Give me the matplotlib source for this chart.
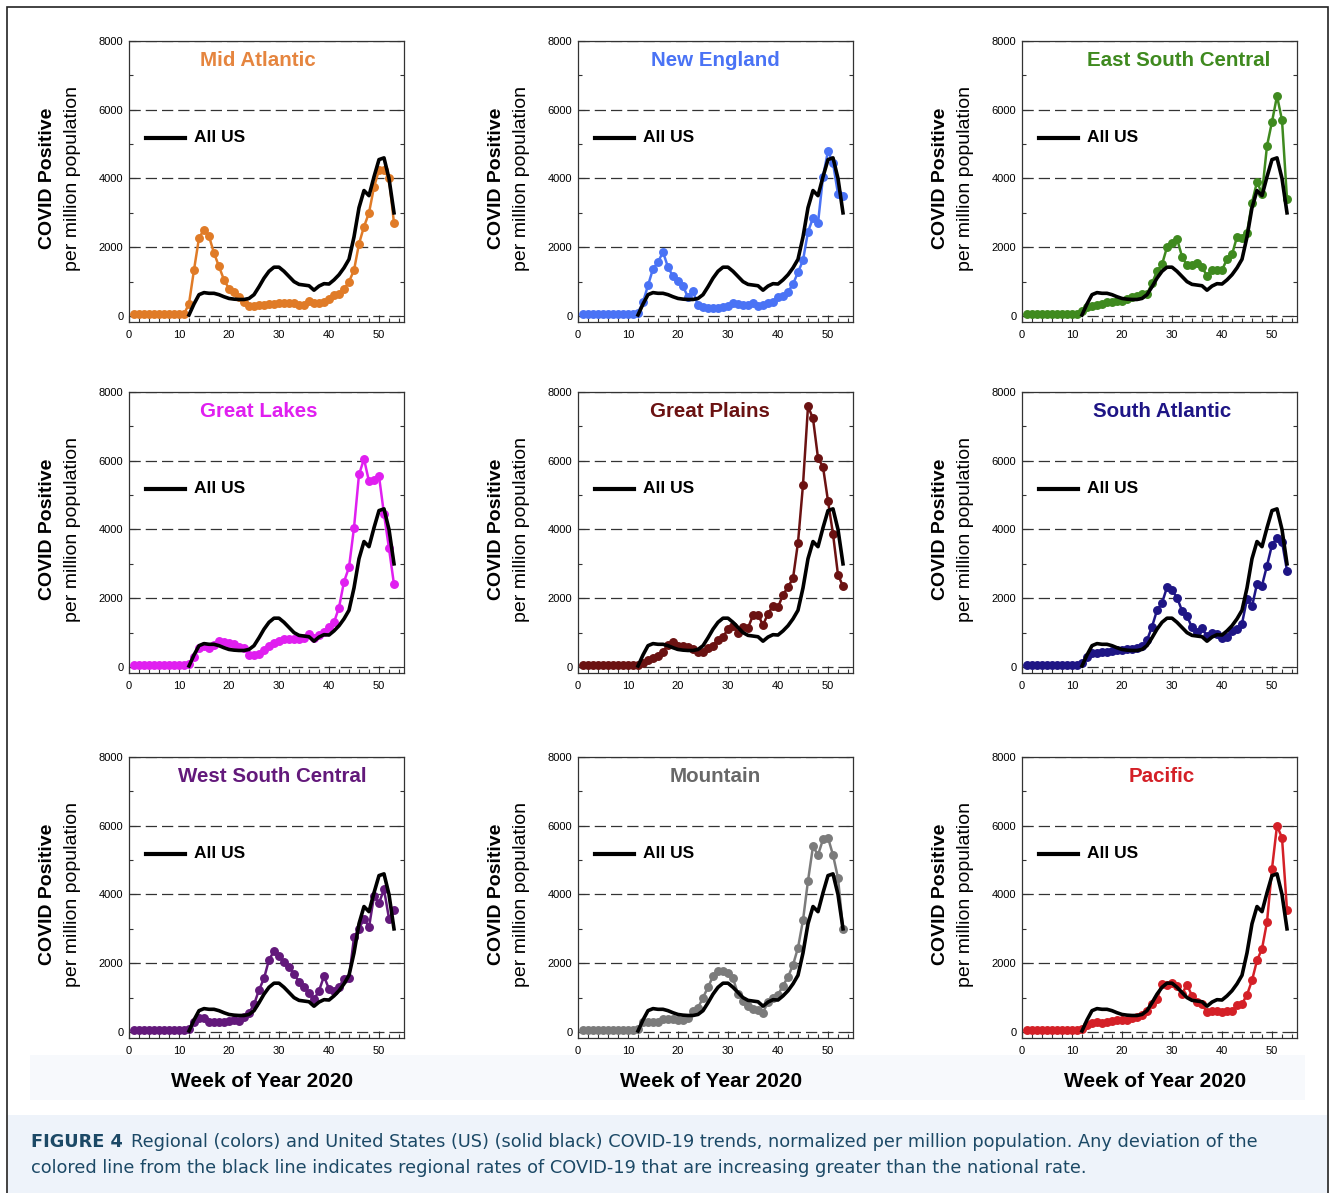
import numpy as np
import matplotlib
matplotlib.use('Agg')
import matplotlib.pyplot as plt
from matplotlib.patches import Rectangle
from matplotlib.ticker import MultipleLocator

plt.rcParams['font.family'] = ['Liberation Sans', 'DejaVu Sans']

# week numbers
weeks = np.arange(1, 54)
us_weeks = np.arange(12, 54)

# All US (black line), per million population
us_cases = [30, 350, 620, 680, 660, 660, 620, 560, 510, 490, 480, 480, 510, 620,
            850, 1100, 1300, 1420, 1420, 1300, 1150, 1000, 920, 900, 880, 750,
            870, 940, 930, 1050, 1200, 1400, 1650, 2300, 3150, 3650, 3500, 4050,
            4550, 4600, 4000, 3000]

# regional series, weeks 1..53
mid_atlantic = [50, 50, 50, 50, 50, 50, 50, 50, 50, 50, 50,
                360, 1340, 2270, 2510, 2320, 1830, 1440, 1050, 790, 700, 550, 400, 290,
                290, 320, 330, 340, 360, 380, 390, 370, 370, 330, 320, 430, 380, 380,
                400, 480, 600, 640, 780, 1000, 1330, 2100, 2600, 3000, 3750, 4250,
                4250, 4000, 2700]
new_england = [50, 50, 50, 50, 50, 50, 50, 50, 50, 50, 50,
               100, 400, 890, 1370, 1570, 1860, 1420, 1150, 1010, 860, 550, 720, 310,
               250, 230, 220, 230, 260, 300, 380, 340, 330, 310, 370, 290, 330, 380,
               420, 560, 580, 700, 930, 1270, 1620, 2450, 2850, 2700, 4050, 4800,
               4450, 3550, 3500]
east_south_central = [50, 50, 50, 50, 50, 50, 50, 50, 50, 50, 50,
                      150, 250, 280, 320, 340, 400, 420, 430, 440, 500, 540, 570, 650,
                      640, 950, 1300, 1500, 2000, 2120, 2250, 1730, 1470, 1480, 1550,
                      1420, 1170, 1330, 1340, 1340, 1650, 1790, 2300, 2280, 2420, 3300,
                      3900, 3560, 4950, 5650, 6400, 5700, 3400]
great_lakes = [50, 50, 50, 50, 50, 50, 50, 50, 50, 50, 50,
               100, 290, 560, 620, 560, 640, 760, 740, 700, 680, 570, 560, 350,
               340, 390, 480, 600, 700, 760, 800, 820, 820, 800, 840, 960, 830, 940,
               1020, 1170, 1300, 1730, 2480, 2900, 4050, 5600, 6050, 5400, 5450, 5550,
               4450, 3450, 2400]
great_plains = [50, 50, 50, 50, 50, 50, 50, 50, 50, 50, 50,
                60, 120, 200, 260, 320, 450, 650, 740, 620, 620, 570, 520, 430,
                450, 560, 620, 790, 880, 1100, 1180, 1000, 1150, 1140, 1500, 1520,
                1220, 1550, 1780, 1740, 2100, 2330, 2580, 3620, 5300, 7580, 7230,
                6080, 5820, 4830, 3870, 2680, 2350]
south_atlantic = [50, 50, 50, 50, 50, 50, 50, 50, 50, 50, 50,
                  120, 300, 400, 420, 430, 440, 460, 480, 500, 520, 530, 560, 600,
                  780, 1170, 1650, 1860, 2320, 2230, 2020, 1640, 1480, 1150, 1030,
                  1120, 900, 980, 950, 850, 860, 1060, 1100, 1260, 1980, 1760, 2420,
                  2370, 2950, 3550, 3750, 3650, 2800]
west_south_central = [50, 50, 50, 50, 50, 50, 50, 50, 50, 50, 50,
                      100, 300, 400, 420, 300, 280, 300, 300, 320, 350, 330, 450, 550,
                      800, 1220, 1560, 2100, 2350, 2220, 2030, 1900, 1700, 1450, 1310,
                      1130, 950, 1200, 1620, 1250, 1200, 1300, 1550, 1560, 2750, 3000,
                      3300, 3050, 3950, 3750, 4150, 3300, 3550]
mountain = [50, 50, 50, 50, 50, 50, 50, 50, 50, 50, 50,
            100, 280, 300, 280, 300, 380, 380, 380, 350, 340, 400, 600, 700,
            1000, 1300, 1620, 1760, 1780, 1720, 1560, 1100, 900, 750, 660, 650, 560,
            880, 980, 1080, 1350, 1600, 1950, 2450, 3250, 4400, 5400, 5150, 5600,
            5650, 5150, 4480, 3000]
pacific = [50, 50, 50, 50, 50, 50, 50, 50, 50, 50, 50,
           100, 200, 270, 280, 250, 300, 320, 340, 350, 340, 400, 450, 500,
           600, 800, 950, 1400, 1370, 1430, 1350, 1100, 1380, 1050, 870, 800, 580,
           600, 620, 580, 620, 600, 780, 820, 1080, 1500, 2080, 2420, 3200, 4750,
           6000, 5650, 3550]

region_names = ['Mid Atlantic', 'New England', 'East South Central',
                'Great Lakes', 'Great Plains', 'South Atlantic',
                'West South Central', 'Mountain', 'Pacific']
region_values = [mid_atlantic, new_england, east_south_central,
                 great_lakes, great_plains, south_atlantic,
                 west_south_central, mountain, pacific]
region_colors = ['#E07B27', '#4A73F5', '#3F8A1F',
                 '#E01FF0', '#6B1212', '#1E1585',
                 '#63197B', '#7B7B7B', '#D42027']
title_colors = ['#E5853F', '#4A73F5', '#3F8A1F',
                '#E01FF0', '#6B1212', '#1E1585',
                '#63197B', '#686868', '#D42027']
title_x = [0.47, 0.5, 0.57, 0.47, 0.48, 0.51, 0.52, 0.5, 0.51]

W, H = 1333, 1193
fig = plt.figure(figsize=(W / 100, H / 100), dpi=100)

# outer frame and caption box
fig.patches.append(Rectangle((8 / W, 0), 1319 / W, 78 / H, transform=fig.transFigure,
                             facecolor='#EEF3FA', edgecolor='none', zorder=-5))
fig.patches.append(Rectangle((30 / W, 1 - 1100 / H), 1275 / W, 45 / H,
                             transform=fig.transFigure, facecolor='#F7F9FC',
                             edgecolor='none', zorder=-5))
fig.patches.append(Rectangle((7 / W, -0.05), 1321 / W, 1.05 - 7 / H,
                             transform=fig.transFigure, facecolor='none',
                             edgecolor='#222222', lw=1.2, zorder=-4))

col_left = [129, 578, 1022]
row_top = [41, 392, 757]
ax_w, ax_h = 275, 281

for i, name in enumerate(region_names):
    r, c = divmod(i, 3)
    left = col_left[c]
    top = row_top[r]
    ax = fig.add_axes([left / W, 1 - (top + ax_h) / H, ax_w / W, ax_h / H])

    ax.plot(weeks, region_values[i], color=region_colors[i], lw=1.8,
            marker='o', ms=5.4, zorder=3)
    ax.plot(us_weeks, us_cases, color='black', lw=2.6, zorder=4)

    ax.set_xlim(0, 55)
    ax.set_ylim(-175, 8000)
    ax.xaxis.set_major_locator(MultipleLocator(10))
    ax.xaxis.set_minor_locator(MultipleLocator(2))
    ax.yaxis.set_major_locator(MultipleLocator(2000))
    ax.yaxis.set_minor_locator(MultipleLocator(1000))
    ax.tick_params(which='both', direction='in', left=True, right=True,
                   top=False, bottom=True, width=0.8, color='#333333')
    ax.tick_params(which='major', length=5, labelsize=8, pad=4)
    ax.tick_params(which='minor', length=3)
    ax.tick_params(axis='x', which='major', pad=6)
    for s in ax.spines.values():
        s.set_linewidth(0.9)
        s.set_color('#333333')
    ax.yaxis.grid(True, linestyle=(0, (9, 4)), color='#333333', lw=0.9)
    ax.set_axisbelow(True)

    ax.text(title_x[i], 0.93, name, transform=ax.transAxes, ha='center',
            va='center', fontsize=14.8, fontweight='bold', color=title_colors[i])

    # "All US" key
    ax.plot([0.06, 0.205], [0.655, 0.655], transform=ax.transAxes,
            color='black', lw=3)
    ax.text(0.237, 0.655, 'All US', transform=ax.transAxes, ha='left',
            va='center', fontsize=12.5, fontweight='bold')

    ax.text(-0.295, 0.51, 'COVID Positive', transform=ax.transAxes,
            rotation=90, ha='center', va='center', fontsize=14,
            fontweight='bold')
    ax.text(-0.205, 0.51, 'per million population', transform=ax.transAxes,
            rotation=90, ha='center', va='center', fontsize=14)

    if r == 2:
        ax.text(0.485, -0.155, 'Week of Year 2020', transform=ax.transAxes,
                ha='center', va='center', fontsize=15, fontweight='bold')

# caption
cap_color = '#1C4966'
renderer = fig.canvas.get_renderer()
t = fig.text(31 / W, 1 - 1142 / H, 'FIGURE 4', fontsize=12.8, fontweight='bold',
             color=cap_color, va='center', family='DejaVu Sans')
bb = t.get_window_extent(renderer)
fig.text((bb.x1 + 8) / W, 1 - 1142 / H,
         'Regional (colors) and United States (US) (solid black) COVID-19 trends, '
         'normalized per million population. Any deviation of the',
         fontsize=12.8, color=cap_color, va='center', family='DejaVu Sans')
fig.text(31 / W, 1 - 1168 / H,
         'colored line from the black line indicates regional rates of COVID-19 '
         'that are increasing greater than the national rate.',
         fontsize=12.8, color=cap_color, va='center', family='DejaVu Sans')

fig.savefig('out.png', dpi=100)
